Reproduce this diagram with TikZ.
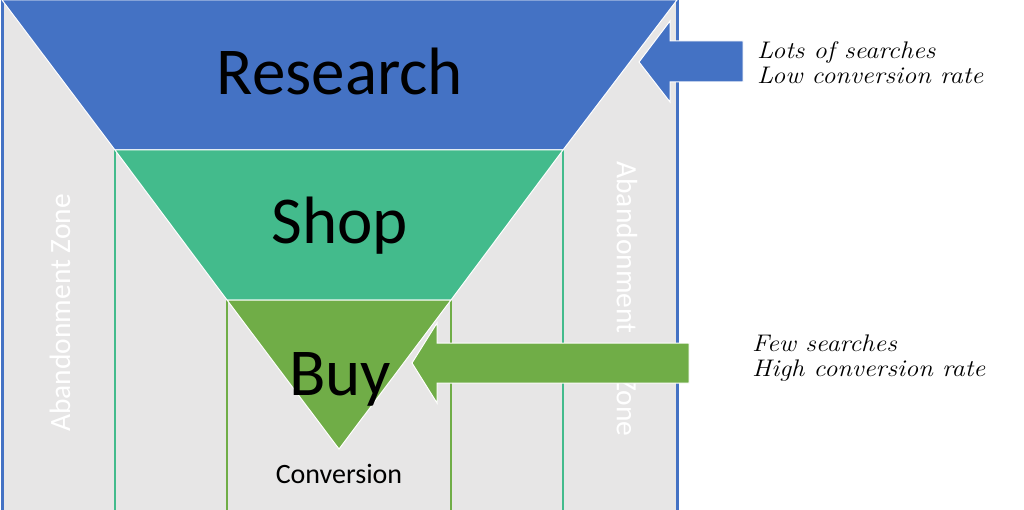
\documentclass[tikz,border=0pt]{standalone}
\usepackage{fontspec}
\newfontfamily\calib{Carlito}
\definecolor{fblue}{HTML}{4472C4}
\definecolor{fteal}{HTML}{43BB8C}
\definecolor{fgreen}{HTML}{70AD47}
\definecolor{zone}{HTML}{E7E6E6}
\tikzset{
  band/.style={draw=white, line width=1pt, line join=miter},
  arrowshape/.style={draw=white, line width=1pt},
  bigtxt/.style={font=\calib\fontsize{67}{67}\selectfont, text=black, anchor=base, inner sep=0pt},
  zonetxt/.style={font=\calib\fontsize{29.5}{29.5}\selectfont, text=white, inner sep=0pt},
  notetxt/.style={font=\itshape\fontsize{24}{25}\selectfont, text=black, align=left, anchor=north west, inner sep=0pt, xscale=1.1},
}
\begin{document}
\begin{tikzpicture}[x=1pt,y=-1pt]
\useasboundingbox (0,0) rectangle (1024,510);
\fill[white] (0,0) rectangle (1024,510);
% gray zone
\fill[zone] (2,0) rectangle (677,512);
\draw[fblue, line width=3pt] (2,0) -- (2,512);
\draw[fblue, line width=3pt] (677,0) -- (677,512);
\draw[fteal, line width=2pt] (115,150) -- (115,512);
\draw[fteal, line width=2pt] (563,150) -- (563,512);
\draw[fgreen, line width=2pt] (227,300) -- (227,512);
\draw[fgreen, line width=2pt] (451,300) -- (451,512);
% funnel
\filldraw[band, fill=fblue] (2,0) -- (677,0) -- (563,150) -- (115,150) -- cycle;
\filldraw[band, fill=fteal] (115,150) -- (563,150) -- (451,300) -- (227,300) -- cycle;
\filldraw[band, fill=fgreen] (227,300) -- (451,300) -- (339,449) -- cycle;
% zone texts
\node[zonetxt, rotate=90] (zl) at (60,313) {Abandonment Zone};
\node[zonetxt, rotate=-90] (zr) at (627,299) {Abandonment\hspace{44pt}Zone};
% arrows
\filldraw[arrowshape, fill=fblue] (639,62) -- (670,21) -- (670,41) -- (743,41) -- (743,82) -- (670,82) -- (670,102) -- cycle;
\filldraw[arrowshape, fill=fgreen] (412,363) -- (437,323) -- (437,343) -- (689,343) -- (689,383) -- (437,383) -- (437,403) -- cycle;
% labels
\node[bigtxt] (research) at (340,95) {Research};
\node[bigtxt] (shop) at (340,244) {Shop};
\node[bigtxt] (buy) at (340,395) {Buy};
\node[font=\calib\fontsize{28}{28}\selectfont, anchor=base, inner sep=0pt] (conv) at (339,483) {Conversion};
\node[notetxt] (n1) at (757,41) {Lots of searches\\Low conversion rate};
\node[notetxt] (n2) at (752,335) {Few searches\\High conversion rate};
\end{tikzpicture}
\end{document}
